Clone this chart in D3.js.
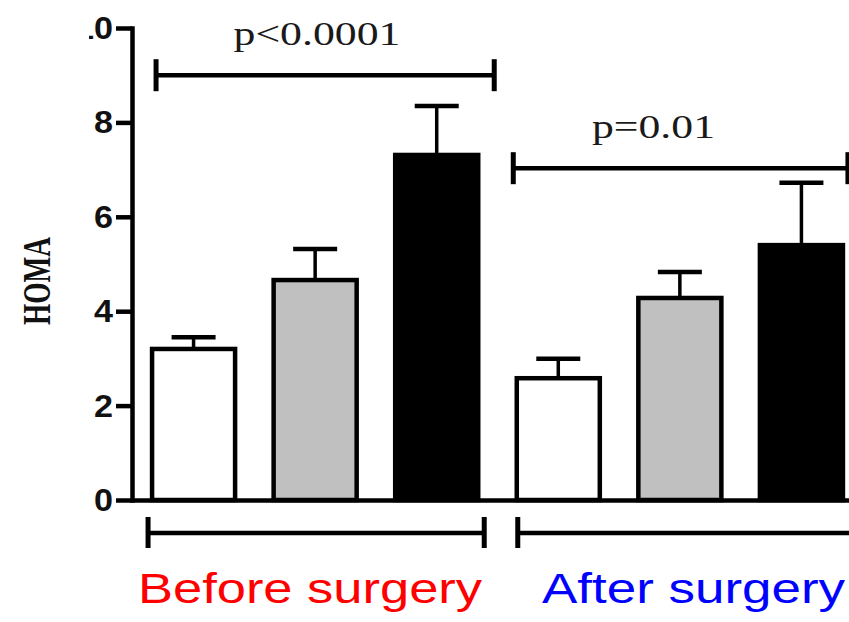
<!DOCTYPE html>
<html>
<head>
<meta charset="utf-8">
<script src="https://cdn.jsdelivr.net/npm/d3@7/dist/d3.min.js"></script>
<style>
  html, body { margin: 0; padding: 0; background: #fff; }
  svg { display: block; }
</style>
</head>
<body>
<script>
// ---- data ----
const categories = ["Before-1", "Before-2", "Before-3", "After-1", "After-2", "After-3"];
const means = [3.20, 4.66, 7.31, 2.58, 4.28, 5.40];
const errors = [0.25, 0.66, 1.04, 0.41, 0.55, 1.32];
const fills = ["#ffffff", "#c0c0c0", "#000000", "#ffffff", "#c0c0c0", "#000000"];
const yTicks = [0, 2, 4, 6, 8, 10];
const yLabel = "HOMA";
const groupLabels = ["Before surgery", "After surgery"];
const groupColors = ["#ff0000", "#0000ff"];
const groupMembers = [["Before-1", "Before-3"], ["After-1", "After-3"]];
const sigLabels = ["p<0.0001", "p=0.01"];
const sigLevels = [9.0, 7.03];
const sigMembers = [["Before-1", "Before-3"], ["After-1", "After-3"]];

// ---- layout ----
const W = 849, H = 622;
const svg = d3.select("body").append("svg").attr("width", W).attr("height", H);

const y = d3.scaleLinear().domain([0, 10]).range([500, 28]);
const x = d3.scaleBand().domain(categories).range([132, 863])
  .paddingInner(0.317).paddingOuter(0.165);
const bw = x.bandwidth();

// bars
svg.append("g").selectAll("rect").data(categories).join("rect")
  .attr("x", d => x(d))
  .attr("y", (d, i) => y(means[i]))
  .attr("width", bw)
  .attr("height", (d, i) => y(0) - y(means[i]))
  .attr("fill", (d, i) => fills[i])
  .attr("stroke", "#000")
  .attr("stroke-width", 4.5);

// error bars
const eg = svg.append("g").attr("stroke", "#000");
eg.selectAll("line.stem").data(categories).join("line").attr("class", "stem")
  .attr("x1", d => x(d) + bw / 2).attr("x2", d => x(d) + bw / 2)
  .attr("y1", (d, i) => y(means[i]))
  .attr("y2", (d, i) => y(means[i] + errors[i]))
  .attr("stroke-width", 3.5);
eg.selectAll("line.cap").data(categories).join("line").attr("class", "cap")
  .attr("x1", d => x(d) + bw / 2 - 22).attr("x2", d => x(d) + bw / 2 + 22)
  .attr("y1", (d, i) => y(means[i] + errors[i]))
  .attr("y2", (d, i) => y(means[i] + errors[i]))
  .attr("stroke-width", 4.5);

// x baseline
const xg = svg.append("g").attr("transform", `translate(0,${y(0)})`)
  .call(d3.axisBottom(x).tickSize(0).tickSizeOuter(0).tickFormat(""));
xg.select(".domain").attr("stroke-width", 4.5).attr("stroke", "#000");
xg.selectAll(".tick").remove();

// y axis
const yg = svg.append("g").attr("transform", "translate(132,0)")
  .call(d3.axisLeft(y).tickValues(yTicks).tickSize(16).tickSizeOuter(0).tickPadding(3).tickFormat(d => d));
yg.select(".domain").attr("stroke-width", 4.5).attr("stroke-linecap", "square");
yg.selectAll(".tick line").attr("stroke-width", 4.5);
yg.selectAll(".tick text")
  .attr("font-family", "'Liberation Sans', Arial, sans-serif")
  .attr("font-weight", "bold")
  .attr("font-size", 31)
  .attr("fill", "#111")
  .attr("dy", "0.34em")
  .attr("textLength", d => String(d).length * 19)
  .attr("lengthAdjust", "spacingAndGlyphs");
// the "10" label is cropped at the left in the reference
svg.append("rect").attr("x", 0).attr("y", 0).attr("width", 89).attr("height", 60).attr("fill", "#fff");

// y label
svg.append("text")
  .attr("transform", "translate(50,281) scale(1.3,1) rotate(-90)")
  .attr("text-anchor", "middle")
  .attr("font-family", "'Liberation Serif', 'Times New Roman', serif")
  .attr("font-weight", "bold")
  .attr("font-size", 30)
  .attr("fill", "#111")
  .attr("textLength", 88)
  .attr("lengthAdjust", "spacingAndGlyphs")
  .text(yLabel);

// significance brackets
const sg = svg.append("g");
const sigX = [
  [x(sigMembers[0][0]) + 4, x(sigMembers[0][1]) + bw + 16],
  [x(sigMembers[1][0]) - 3.5, x(sigMembers[1][1]) + bw + 5]
];
const sigTextW = [167, 123];
const sigTextC = [317, 653.5];
sigLabels.forEach((lab, i) => {
  const yy = y(sigLevels[i]);
  const [a, b] = sigX[i];
  sg.append("line").attr("x1", a).attr("x2", b).attr("y1", yy).attr("y2", yy)
    .attr("stroke", "#000").attr("stroke-width", 4.5);
  [a, b].forEach(xx => sg.append("line").attr("x1", xx).attr("x2", xx)
    .attr("y1", yy - 16).attr("y2", yy + 16)
    .attr("stroke", "#000").attr("stroke-width", 5));
  sg.append("text")
    .attr("x", sigTextC[i] - sigTextW[i] / 2)
    .attr("y", yy - 30)
    .attr("font-family", "'Liberation Serif', 'Times New Roman', serif")
    .attr("font-size", 34)
    .attr("fill", "#1a1a1a")
    .attr("textLength", sigTextW[i])
    .attr("lengthAdjust", "spacingAndGlyphs")
    .text(lab);
});

// group brackets + labels
const gg = svg.append("g");
const grpX = [
  [x(groupMembers[0][0]) - 4, x(groupMembers[0][1]) + bw + 6],
  [x(groupMembers[1][0]) + 1, x(groupMembers[1][1]) + bw + 30]
];
const grpTextW = [344, 303];
const grpTextX = [138, 542];
groupLabels.forEach((lab, i) => {
  const yy = 533;
  const [a, b] = grpX[i];
  gg.append("line").attr("x1", a).attr("x2", b).attr("y1", yy).attr("y2", yy)
    .attr("stroke", "#000").attr("stroke-width", 4.5);
  [a, b].forEach(xx => gg.append("line").attr("x1", xx).attr("x2", xx)
    .attr("y1", yy - 16).attr("y2", yy + 15)
    .attr("stroke", "#000").attr("stroke-width", 5));
  gg.append("text")
    .attr("x", grpTextX[i]).attr("y", 603)
    .attr("font-family", "'Liberation Sans', Arial, sans-serif")
    .attr("font-size", 42)
    .attr("fill", groupColors[i])
    .attr("textLength", grpTextW[i])
    .attr("lengthAdjust", "spacingAndGlyphs")
    .text(lab);
});
</script>
</body>
</html>
